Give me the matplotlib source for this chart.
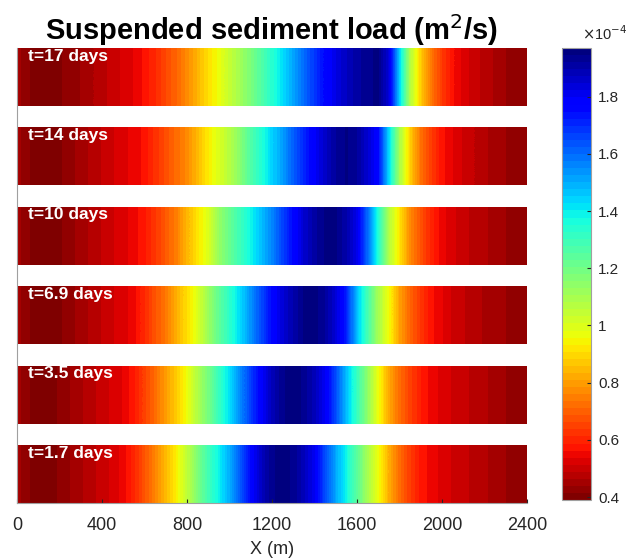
import numpy as np
import matplotlib
matplotlib.use('Agg')
import matplotlib.pyplot as plt

plt.rcParams['font.family'] = ['Liberation Sans', 'DejaVu Sans']

# suspended sediment load along the channel, in units of 1e-4 m2/s, every 50 m
x_m = np.arange(0, 2401, 50)
labels = ['t=17 days', 't=14 days', 't=10 days', 't=6.9 days', 't=3.5 days', 't=1.7 days']

load_17 = [0.45, 0.42, 0.40, 0.40, 0.41, 0.43, 0.44, 0.46, 0.48, 0.50, 0.52, 0.54, 0.57,
           0.61, 0.66, 0.71, 0.77, 0.84, 0.91, 0.97, 1.04, 1.11, 1.18, 1.26, 1.34, 1.42,
           1.51, 1.60, 1.68, 1.76, 1.82, 1.87, 1.91, 1.94, 1.95, 1.84, 1.44, 1.08, 0.88,
           0.74, 0.64, 0.57, 0.53, 0.50, 0.48, 0.46, 0.44, 0.43, 0.43]
load_14 = [0.45, 0.42, 0.40, 0.40, 0.41, 0.43, 0.45, 0.47, 0.49, 0.51, 0.53, 0.55, 0.57,
           0.62, 0.67, 0.72, 0.77, 0.85, 0.93, 1.00, 1.07, 1.16, 1.26, 1.35, 1.44, 1.52,
           1.62, 1.71, 1.79, 1.86, 1.92, 1.95, 1.92, 1.85, 1.76, 1.43, 1.10, 0.88, 0.73,
           0.64, 0.57, 0.54, 0.51, 0.49, 0.47, 0.45, 0.44, 0.43, 0.43]
load_10 = [0.45, 0.42, 0.40, 0.40, 0.41, 0.43, 0.45, 0.47, 0.49, 0.51, 0.53, 0.55, 0.58,
           0.63, 0.69, 0.75, 0.84, 0.92, 1.00, 1.13, 1.22, 1.30, 1.38, 1.47, 1.56, 1.66,
           1.76, 1.85, 1.91, 1.95, 1.95, 1.90, 1.81, 1.60, 1.36, 1.08, 0.92, 0.77, 0.68,
           0.60, 0.55, 0.52, 0.50, 0.48, 0.47, 0.45, 0.44, 0.43, 0.43]
load_69 = [0.45, 0.42, 0.40, 0.40, 0.41, 0.43, 0.45, 0.47, 0.49, 0.51, 0.53, 0.55, 0.61,
           0.68, 0.74, 0.83, 0.91, 1.00, 1.12, 1.23, 1.33, 1.43, 1.54, 1.65, 1.76, 1.84,
           1.90, 1.95, 1.96, 1.92, 1.84, 1.72, 1.47, 1.28, 1.10, 0.96, 0.81, 0.71, 0.63,
           0.57, 0.54, 0.51, 0.49, 0.48, 0.46, 0.45, 0.44, 0.43, 0.43]
load_35 = [0.45, 0.42, 0.40, 0.40, 0.42, 0.44, 0.46, 0.48, 0.50, 0.52, 0.54, 0.58, 0.65,
           0.72, 0.80, 0.88, 0.97, 1.08, 1.19, 1.31, 1.42, 1.55, 1.67, 1.78, 1.88, 1.94,
           1.96, 1.94, 1.88, 1.80, 1.65, 1.47, 1.31, 1.14, 0.97, 0.82, 0.72, 0.65, 0.59,
           0.55, 0.53, 0.51, 0.50, 0.48, 0.47, 0.45, 0.44, 0.43, 0.43]
load_17d = [0.45, 0.42, 0.40, 0.40, 0.42, 0.44, 0.46, 0.48, 0.50, 0.52, 0.55, 0.60, 0.68,
            0.76, 0.85, 0.94, 1.05, 1.18, 1.29, 1.39, 1.50, 1.63, 1.76, 1.87, 1.94, 1.96,
            1.94, 1.88, 1.80, 1.65, 1.51, 1.38, 1.24, 1.10, 0.97, 0.83, 0.72, 0.64, 0.58,
            0.55, 0.53, 0.51, 0.50, 0.48, 0.47, 0.45, 0.44, 0.43, 0.43]
profiles = [load_17, load_14, load_10, load_69, load_35, load_17d]

cbar_ticks = [0.4, 0.6, 0.8, 1.0, 1.2, 1.4, 1.6, 1.8]
cbar_ticklabels = ['0.4', '0.6', '0.8', '1', '1.2', '1.4', '1.6', '1.8']
vmin, vmax = 0.39, 1.97

cmap = plt.get_cmap('jet_r', 64)
grey = '#262626'

fig = plt.figure(figsize=(6.35, 5.59), dpi=100)
ax = fig.add_axes([17/635, 1 - 503/559, 510/635, 455/559])

step = 1.37
dx = x_m[1] - x_m[0]
for k, (lab, prof) in enumerate(zip(labels, profiles)):
    y0 = (len(profiles) - 1 - k) * step
    im = ax.imshow(np.array([prof]), cmap=cmap, vmin=vmin, vmax=vmax, aspect='auto',
                   interpolation='bilinear', interpolation_stage='data',
                   extent=[x_m[0] - dx/2, x_m[-1] + dx/2, y0, y0 + 1], origin='lower')
    ax.text(50, y0 + 0.99, lab, color='white', fontsize=12.5, fontweight='bold',
            va='top', ha='left')

ax.set_xlim(0, 2400)
ax.set_ylim(0, (len(profiles) - 1) * step + 1)
ax.set_xticks([0, 400, 800, 1200, 1600, 2000, 2400])
ax.set_yticks([])
ax.tick_params(axis='x', direction='in', length=3, colors=grey, labelsize=13, pad=10)
for s in ['top', 'right']:
    ax.spines[s].set_visible(False)
for s in ['left', 'bottom']:
    ax.spines[s].set_color('#a0a0a0')
    ax.spines[s].set_linewidth(0.8)
ax.set_xlabel('X (m)', fontsize=13, color=grey, labelpad=5)
ax.set_title('Suspended sediment load (m$^2$/s)', fontsize=21, fontweight='bold', pad=3)

cax = fig.add_axes([562/635, 1 - 500/559, 29/635, 452/559])
cb = fig.colorbar(im, cax=cax)
cb.set_ticks(cbar_ticks)
cb.set_ticklabels(cbar_ticklabels)
cax.tick_params(direction='in', length=3, colors=grey, labelsize=11, pad=5)
cb.outline.set_edgecolor('#a0a0a0')
cb.outline.set_linewidth(0.8)
fig.text(582/635, 1 - 34/559, r'$\times$10$^{-4}$', fontsize=10.5, color=grey, ha='left', va='center')

fig.savefig('out.png', dpi=100)
